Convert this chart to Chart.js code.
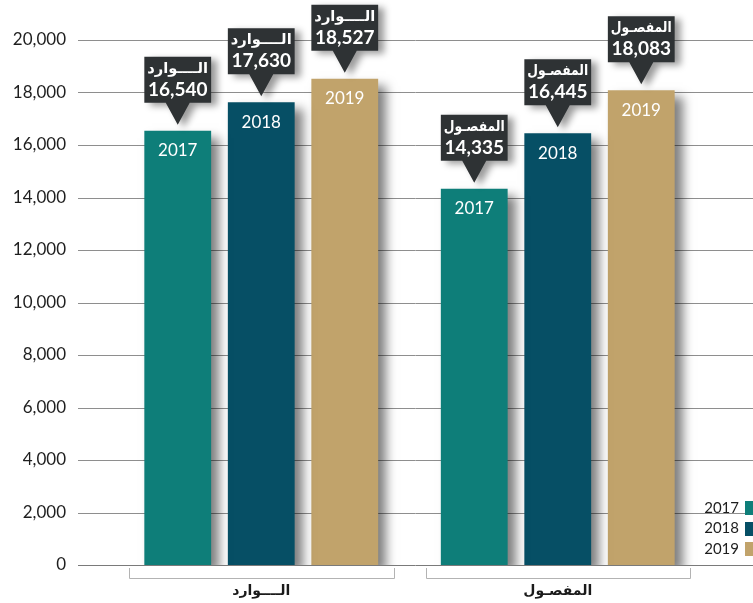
<!DOCTYPE html>
<html><head><meta charset="utf-8">
<script src="https://cdn.jsdelivr.net/npm/chart.js@4"></script>
<style>html,body{margin:0;padding:0;background:#fff;}canvas{display:block}</style>
</head><body>
<canvas id="c" width="753" height="603"></canvas>
<script>
const categories = ['الــــوارد', 'المفصـول'];
const calloutWords = ['الــــوارد', 'المفصـول'];
const years = ['2017', '2018', '2019'];
const values2017 = [16540, 14335];
const values2018 = [17630, 16445];
const values2019 = [18527, 18083];
const yMax = 20000;
const yStep = 2000;
const colors = ['#0e7e79', '#064f65', '#c1a36b'];

const decor = {
  id: 'decor',
  beforeDatasetsDraw(chart) {
    const ctx = chart.ctx, ys = chart.scales.y, xs = chart.scales.x, ca = chart.chartArea;
    ctx.save();
    ctx.lineWidth = 1;
    ys.ticks.forEach(t => {
      const py = Math.round(ys.getPixelForValue(t.value)) + 0.5;
      ctx.strokeStyle = t.value === 0 ? '#7a7a7a' : '#8e8e8e';
      ctx.beginPath(); ctx.moveTo(ca.left - 35, py); ctx.lineTo(chart.width, py); ctx.stroke();
    });
    ctx.strokeStyle = '#b3b3b3';
    const half = (xs.getPixelForValue(1) - xs.getPixelForValue(0)) / 2;
    categories.forEach((c, i) => {
      const cx = xs.getPixelForValue(i);
      const l = Math.round(cx - half + 16) + 0.5, r = Math.round(cx + half - 16) + 0.5;
      const top = ca.bottom + 3, bot = ca.bottom + 13.5;
      ctx.beginPath(); ctx.moveTo(l, top); ctx.lineTo(l, bot); ctx.lineTo(r, bot); ctx.lineTo(r, top); ctx.stroke();
    });
    ctx.restore();
    ctx.save();
    ctx.shadowColor = 'rgba(0,0,0,0.5)';
    ctx.shadowOffsetX = 8; ctx.shadowOffsetY = 7; ctx.shadowBlur = 10;
  },
  afterDatasetsDraw(chart) {
    const ctx = chart.ctx;
    ctx.restore();
    chart.data.datasets.forEach((ds, di) => {
      const meta = chart.getDatasetMeta(di);
      meta.data.forEach((bar, i) => {
        const p = bar.getProps(['x', 'y', 'width'], true);
        const x = p.x, y = p.y, w = p.width;
        ctx.save();
        ctx.fillStyle = '#ffffff';
        ctx.font = '17px Lato';
        ctx.textAlign = 'center'; ctx.textBaseline = 'middle';
        ctx.fillText(ds.label, x, y + 20);
        ctx.restore();
        const left = x - w / 2, right = x + w / 2;
        const boxBottom = y - 28, boxTop = boxBottom - 46, tip = y - 6;
        ctx.save();
        ctx.shadowColor = 'rgba(0,0,0,0.4)';
        ctx.shadowOffsetX = 6; ctx.shadowOffsetY = 3; ctx.shadowBlur = 7;
        ctx.fillStyle = '#2e3234';
        ctx.beginPath();
        ctx.moveTo(left, boxTop); ctx.lineTo(right, boxTop); ctx.lineTo(right, boxBottom);
        ctx.lineTo(x + 12, boxBottom); ctx.lineTo(x, tip); ctx.lineTo(x - 12, boxBottom);
        ctx.lineTo(left, boxBottom); ctx.closePath(); ctx.fill();
        ctx.restore();
        ctx.save();
        ctx.fillStyle = '#ffffff';
        ctx.textAlign = 'center'; ctx.textBaseline = 'middle';
        ctx.direction = 'rtl';
        ctx.font = 'bold 15px "DejaVu Sans"';
        ctx.fillText(calloutWords[i], x, boxTop + 12, w - 6);
        ctx.direction = 'ltr';
        ctx.font = 'bold 19px Lato';
        ctx.fillText(ds.data[i].toLocaleString('en-US'), x, boxTop + 33);
        ctx.restore();
      });
    });
    ctx.save();
    ctx.font = '15px Lato';
    ctx.textAlign = 'right'; ctx.textBaseline = 'middle';
    chart.data.datasets.forEach((ds, di) => {
      const cy = 508 + di * 20.5;
      ctx.fillStyle = '#1e1e1e';
      ctx.fillText(ds.label, 739, cy);
      ctx.fillStyle = ds.backgroundColor;
      ctx.fillRect(745, Math.round(cy - 7), 9, 14);
    });
    ctx.restore();
  }
};

new Chart(document.getElementById('c'), {
  type: 'bar',
  data: {
    labels: categories,
    datasets: [
      { label: years[0], data: values2017, backgroundColor: colors[0] },
      { label: years[1], data: values2018, backgroundColor: colors[1] },
      { label: years[2], data: values2019, backgroundColor: colors[2] }
    ]
  },
  options: {
    responsive: false,
    animation: false,
    devicePixelRatio: 1,
    layout: { padding: { left: 0, right: 47, top: 40, bottom: 0 } },
    categoryPercentage: 0.845,
    barPercentage: 0.8,
    plugins: { legend: { display: false }, tooltip: { enabled: false } },
    scales: {
      x: {
        grid: { display: false, drawTicks: false },
        border: { display: false },
        ticks: { padding: 18, color: '#1a1a1a', font: { family: 'DejaVu Sans', weight: 'bold', size: 14 } },
        afterFit(s) { s.height = 38; s.paddingLeft = 0; s.paddingRight = 0; }
      },
      y: {
        min: 0, max: yMax,
        grid: { display: false, drawTicks: false },
        border: { display: false },
        ticks: {
          stepSize: yStep, padding: 47, color: '#1e1e1e',
          font: { family: 'Lato', size: 17 },
          callback: v => v.toLocaleString('en-US')
        },
        afterFit(s) { s.width = 113; s.paddingTop = 0; s.paddingBottom = 0; }
      }
    }
  },
  plugins: [decor]
});
</script>
</body></html>
